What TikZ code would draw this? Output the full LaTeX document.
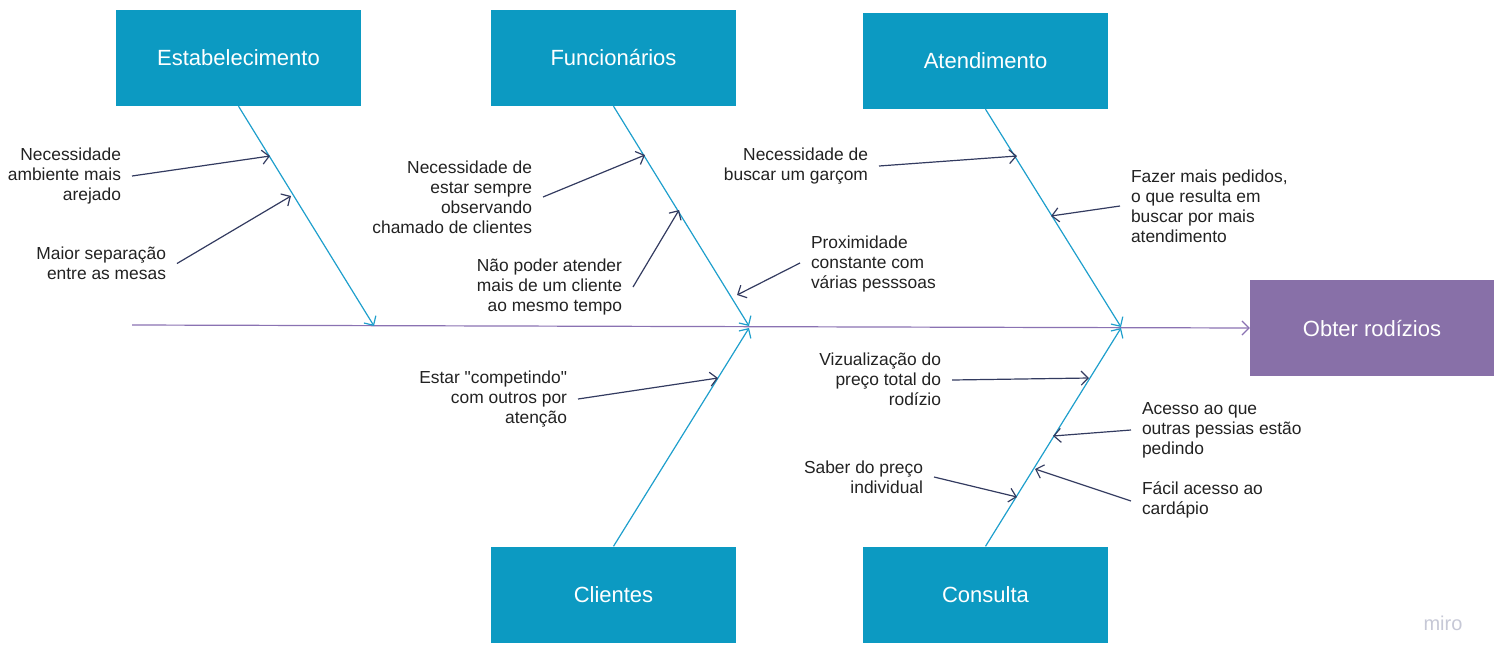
\documentclass[tikz,border=0pt]{standalone}
\usepackage{fontspec}
\setmainfont{Liberation Sans}[Ligatures=TeXOff]
\usetikzlibrary{arrows.meta}
\definecolor{boxblue}{HTML}{0C9AC2}
\definecolor{boneblue}{HTML}{1E9FCC}
\definecolor{effpurple}{HTML}{8870A8}
\definecolor{spinepurple}{HTML}{8A72B2}
\definecolor{navy}{HTML}{333B60}
\definecolor{txt}{HTML}{222222}
\definecolor{wm}{HTML}{C6C8D6}
\begin{document}
\begin{tikzpicture}[x=1pt,y=-1pt,
  catbox/.style={fill=boxblue,draw=none,minimum width=245pt,minimum height=96pt,text=white,font=\fontsize{22}{26}\selectfont,inner sep=0pt},
  effbox/.style={fill=effpurple,draw=none,minimum width=244pt,minimum height=96pt,text=white,font=\fontsize{22}{26}\selectfont,inner sep=0pt},
  lbl/.style={text=txt,font=\fontsize{17.4}{20}\selectfont,inner sep=0pt,outer sep=0pt},
  lblR/.style={lbl,align=right,anchor=east},
  lblL/.style={lbl,align=left,anchor=west},
  bone/.style={draw=boneblue,line width=1.2pt,-{Straight Barb[length=7pt,width=14pt,line width=1.2pt]}},
  spine/.style={draw=spinepurple,line width=1.2pt,-{Straight Barb[length=7pt,width=14pt,line width=1.2pt]}},
  cause/.style={draw=navy,line width=1.2pt,-{Straight Barb[length=7pt,width=14pt,line width=1.2pt]}}
]
\useasboundingbox (0,0) rectangle (1501,665);

% category boxes
\node[catbox] (est) at (238.5,58) {Estabelecimento};
\node[catbox] (fun) at (613.5,58) {Funcionários};
\node[catbox] (ate) at (985.5,61) {Atendimento};
\node[catbox] (cli) at (613.5,594.5) {Clientes};
\node[catbox] (con) at (985.5,594.5) {Consulta};
\node[effbox] (eff) at (1372,328) {Obter rodízios};

% spine
\coordinate (tail) at (132,325);
\draw[spine] (tail) -- (eff.west);

% bone ends on spine
\coordinate (b1) at (374,326);
\coordinate (b2) at (749,326);
\coordinate (b3) at (1121,327);
\coordinate (b4) at (749,328);
\coordinate (b5) at (1121,328);
\draw[bone] (est.south) -- (b1);
\draw[bone] (fun.south) -- (b2);
\draw[bone] (ate.south) -- (b3);
\draw[bone] (cli.north) -- (b4);
\draw[bone] (con.north) -- (b5);

% labels
\node[lblR] (l1) at (121,176) {Necessidade\\ambiente mais\\arejado};
\node[lblR] (l2) at (166,263.5) {Maior separação\\entre as mesas};
\node[lblR] (l3) at (532,197) {Necessidade de\\estar sempre\\observando\\chamado de clientes};
\node[lblR] (l4) at (622,287) {Não poder atender\\mais de um cliente\\ao mesmo tempo};
\node[lblL] (l5) at (811,264) {Proximidade\\constante com\\várias pesssoas};
\node[lblR] (l6) at (868,166) {Necessidade de\\buscar um garçom};
\node[lblL] (l7) at (1131,206) {Fazer mais pedidos,\\o que resulta em\\buscar por mais\\atendimento};
\node[lblR] (l8) at (567,399) {Estar "competindo"\\com outros por\\atenção};
\node[lblR] (l9) at (941,379) {Vizualização do\\preço total do\\rodízio};
\node[lblL] (l10) at (1142,430) {Acesso ao que\\outras pessias estão\\pedindo};
\node[lblR] (l11) at (923,477) {Saber do preço\\individual};
\node[lblL] (l12) at (1142,500) {Fácil acesso ao\\cardápio};

% targets on bones
\coordinate (t1) at (270,156);
\coordinate (t2) at (291,196);
\coordinate (t3) at (645,155);
\coordinate (t4) at (679,210);
\coordinate (t5) at (737,295);
\coordinate (t6) at (1017,156);
\coordinate (t7) at (1051,216);
\coordinate (t8) at (718,378);
\coordinate (t9) at (1089,378);
\coordinate (t10) at (1053,436);
\coordinate (t11) at (1017,497);
\coordinate (t12) at (1035,469);

\draw[cause] ([xshift=11pt]l1.east) -- (t1);
\draw[cause] ([xshift=11pt]l2.east) -- (t2);
\draw[cause] ([xshift=11pt]l3.east) -- (t3);
\draw[cause] ([xshift=11pt]l4.east) -- (t4);
\draw[cause] ([xshift=-11pt,yshift=1pt]l5.west) -- (t5);
\draw[cause] ([xshift=11pt]l6.east) -- (t6);
\draw[cause] ([xshift=-11pt]l7.west) -- (t7);
\draw[cause] ([xshift=11pt]l8.east) -- (t8);
\draw[cause] ([xshift=11pt,yshift=-1pt]l9.east) -- (t9);
\draw[cause] ([xshift=-11pt]l10.west) -- (t10);
\draw[cause] ([xshift=11pt]l11.east) -- (t11);
\draw[cause] ([xshift=-11pt,yshift=-1pt]l12.west) -- (t12);

% watermark
\node[text=wm,font=\fontsize{20}{22}\selectfont,inner sep=0pt] (wmk) at (1443,623) {miro};
\end{tikzpicture}
\end{document}
